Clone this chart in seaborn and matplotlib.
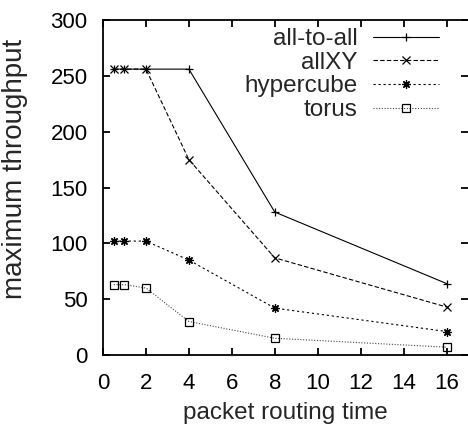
import numpy as np
import pandas as pd
import matplotlib
matplotlib.use("Agg")
import matplotlib.pyplot as plt
import seaborn as sns

# data
routing_time = [0.5, 1, 2, 4, 8, 16]
all_to_all = [256, 256, 256, 256, 128, 64]
all_xy = [256, 256, 256, 175, 87, 43]
hypercube = [102, 102, 102, 85, 42, 21]
torus = [63, 63, 60, 30, 15, 7]

sns.set_style("ticks")
plt.rcParams['font.family'] = ['Liberation Sans', 'DejaVu Sans']

fig = plt.figure(figsize=(4.68, 4.28), dpi=100)
ax = fig.add_axes([103 / 468, 1 - 355 / 428, 365 / 468, 335 / 428])

# series: (label, values, linestyle, marker, color)
series = [
    ("all-to-all", all_to_all, "-", "+", "black"),
    ("allXY", all_xy, (0, (4, 2)), "x", "black"),
    ("hypercube", hypercube, (0, (2, 2.5)), (8, 2, 0), "black"),
    ("torus", torus, (0, (1, 1.5)), "s", "#444444"),
]

for label, vals, ls, mk, col in series:
    sns.lineplot(x=routing_time, y=vals, ax=ax, color=col, linestyle=ls,
                 linewidth=0.8, marker=mk, markersize=6,
                 markerfacecolor="none", markeredgecolor="black",
                 markeredgewidth=0.9, label=label)

ax.set_xlim(0, 17)
ax.set_ylim(0, 300)
ax.set_xticks(range(0, 17, 2))
ax.set_yticks(range(0, 301, 50))
ax.tick_params(direction="in", length=5, width=1.3, top=True, right=True,
               labelsize=16, pad=11, colors="black")
ax.tick_params(axis="x", pad=13)
for side in ["left", "bottom", "top"]:
    ax.spines[side].set_linewidth(1.3)
    ax.spines[side].set_color("black")
ax.spines["right"].set_visible(False)

ax.set_xlabel("packet routing time", fontsize=17.5, labelpad=6)
ax.set_ylabel("maximum throughput", fontsize=20)
ax.yaxis.set_label_coords(-0.205, 0.555)

leg = ax.legend(loc="upper right", bbox_to_anchor=(0.9205, 0.976), frameon=False,
                markerfirst=False, handlelength=2.7, handletextpad=0.66,
                labelspacing=0.07, borderaxespad=0, borderpad=0, fontsize=17.5)
# right-align the legend texts like gnuplot's key
leg._legend_box.align = "right"
for vp in leg._legend_box.get_children()[1].get_children():
    vp.align = "right"

plt.savefig("out.png", dpi=100)
